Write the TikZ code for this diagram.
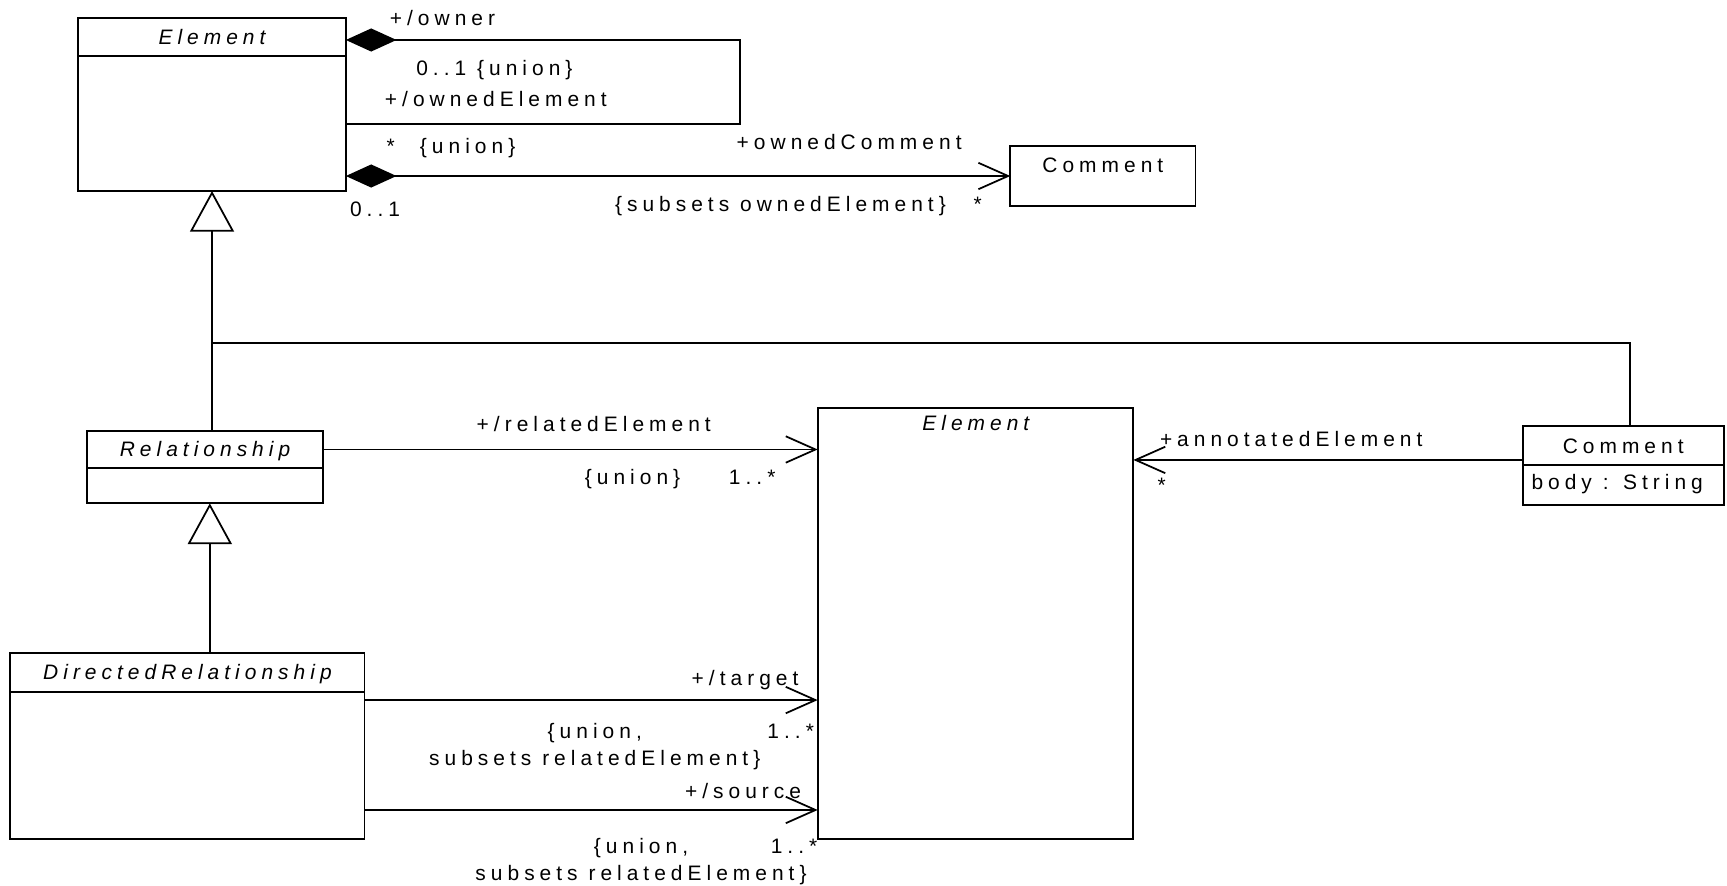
\documentclass[tikz,border=0pt]{standalone}
\usepackage{fontspec}
\setmainfont{Liberation Sans}[LetterSpace=24]
\usetikzlibrary{arrows.meta,calc}
\begin{document}
\begin{tikzpicture}[x=1pt,y=-1pt,
  box/.style={draw, line width=1.6pt, inner sep=0pt, outer sep=0pt, anchor=north west},
  head/.style={box, font=\fontsize{19}{23}\selectfont\itshape, text height=13.6pt, text depth=0pt},
  lbl/.style={inner sep=0pt, outer sep=0pt, font=\fontsize{19}{23}\selectfont, text height=13.6pt, text depth=0pt},
  conn/.style={line width=1.6pt},
  nav/.style={conn, -{Straight Barb[length=27pt,width=24pt]}},
  comp/.style={conn, {Diamond[length=46pt,width=21pt]}-},
  gen/.style={conn, -{Triangle[open,length=37pt,width=40pt]}},
]
\useasboundingbox (0,0) rectangle (1568,804);

% classes
\node[head, minimum width=243pt, minimum height=34.2pt] (eAh) at (71,16.6) {Element};
\node[box, minimum width=243pt, minimum height=122.6pt] (eAb) at (71,50.8) {};

\node[box, minimum width=168.1pt, minimum height=54.4pt] (c1) at (917.3,132.6) {};
\node[lbl] (c1t) at (1001.3,150) {Comment};

\node[head, minimum width=213.7pt, minimum height=34.2pt] (rh) at (79.3,391) {Relationship};
\node[box, minimum width=213.7pt, minimum height=31.8pt] (rb) at (79.3,425.2) {};

\node[box, minimum width=286.6pt, minimum height=391.4pt] (e2) at (742.4,370.6) {};
\node[lbl, font=\fontsize{19}{23}\selectfont\itshape] (e2t) at (886,384.4) {Element};

\node[head, font=\fontsize{19}{23}\selectfont, minimum width=182.5pt, minimum height=35.4pt] (c2h) at (1382.5,386.8) {Comment};
\node[box, minimum width=182.5pt, minimum height=36.3pt] (c2b) at (1382.5,422.2) {};
\node[lbl, anchor=south west] (c2a) at (1390.5,444) {body : String};

\node[head, minimum width=321.6pt, minimum height=35.4pt] (dh) at (9.4,592.6) {DirectedRelationship};
\node[box, minimum width=321.6pt, minimum height=134pt] (db) at (9.4,628) {};

% helper coordinates
\coordinate (lpT) at (672,36.3);
\coordinate (lpB) at (672,112.6);
\coordinate (br) at (1480,311.7);
\coordinate (gx) at (190.5,475);
\coordinate (tY) at ($(db.north east)+(0,7.6)$);
\coordinate (sY) at ($(db.south east)+(0,-26.6)$);
\coordinate (aY) at ($(c2h.south west)+(0,-4.6)$);

% connectors
\draw[comp] (eAh.east |- lpT) -- (lpT) -- (lpB) -- (eAb.east |- lpB);
\draw[conn, {Diamond[length=46pt,width=21pt]}-{Straight Barb[length=27pt,width=24pt]}] (eAb.east |- c1.west) -- (c1.west);
\draw[gen] (eAb.south |- rh.north) -- (eAb.south);
\draw[conn] (eAb.south |- br) -- (br) -- (br |- c2h.north);
\draw[gen] (gx |- dh.north) -- (gx |- rb.south);
\draw[nav] (rh.east) -- (e2.west |- rh.east);
\draw[nav] (tY) -- (e2.west |- tY);
\draw[nav] (sY) -- (e2.west |- sY);
\draw[nav] (aY) -- (e2.east |- aY);

% labels
\node[lbl, anchor=south west] (l1) at (354,22.7) {+/owner};
\node[lbl, anchor=south west] (l2) at (378,68.1) {0..1 \{union\}};
\node[lbl, anchor=south west] (l3) at (349.5,96.9) {+/ownedElement};
\node[lbl, anchor=south west] (l4) at (351,139.8) {*};
\node[lbl, anchor=south west] (l5) at (381.3,139.8) {\{union\}};
\node[lbl, anchor=south west] (l6) at (317.8,196.7) {0..1};
\node[lbl, anchor=south west] (l7) at (668.9,135.6) {+ownedComment};
\node[lbl, anchor=south west] (l8) at (558.4,192.2) {\{subsets ownedElement\}};
\node[lbl, anchor=south west] (l9) at (884,192.2) {*};
\node[lbl, anchor=south west] (l10) at (432.8,392) {+/relatedElement};
\node[lbl, anchor=south west] (l11) at (531,439.7) {\{union\}};
\node[lbl, anchor=south east] (l12) at (704,439.7) {1..*};
\node[lbl, anchor=south west] (l13) at (1053.2,405.6) {+annotatedElement};
\node[lbl, anchor=south west] (l14) at (1051,447.5) {*};
\node[lbl, anchor=south west] (l15) at (628,622) {+/target};
\node[lbl, anchor=south] (l16) at (540,670.4) {\{union,};
\node[lbl, anchor=south] (l17) at (540,694.6) {subsets relatedElement\}};
\node[lbl, anchor=south east] (l18) at (739,670.4) {1..*};
\node[lbl, anchor=south west] (l19) at (622,724.8) {+/source};
\node[lbl, anchor=south] (l20) at (582,774.8) {\{union,};
\node[lbl, anchor=south] (l21) at (582,799) {subsets relatedElement\}};
\node[lbl, anchor=south east] (l22) at (742,774.8) {1..*};
\end{tikzpicture}
\end{document}
